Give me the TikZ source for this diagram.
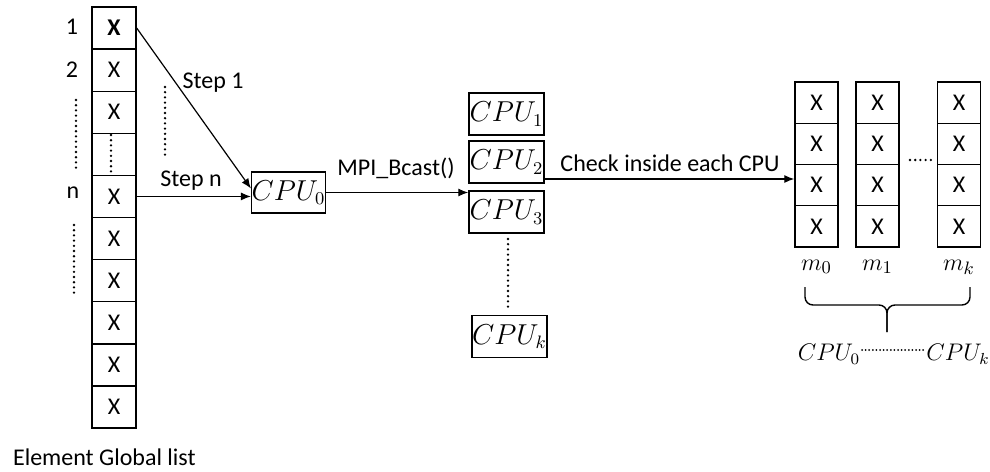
\documentclass[tikz,border=0pt]{standalone}
\usepackage{fontspec}
\setmainfont{Carlito}
\usetikzlibrary{arrows.meta}

\begin{document}
\begin{tikzpicture}[x=0.5pt, y=-0.5pt, >={Latex[length=5pt,width=4pt]},
  every node/.style={font=\fontsize{12}{14}\selectfont},
  cell/.style={draw, line width=0.7pt, minimum width=22pt, minimum height=21.05pt, inner sep=0pt},
  mcell/.style={draw, line width=0.7pt, minimum width=21.5pt, minimum height=20.6pt, inner sep=0pt},
  cpubox/.style={draw, line width=0.7pt, minimum width=37.5pt, minimum height=21pt, inner sep=0pt, font=\fontsize{13.5}{15}\selectfont},
  dotline/.style={line width=1.3pt, dash pattern=on 0pt off 2.6pt, line cap=round},
  link/.style={->, line width=0.6pt}]
  \useasboundingbox (0,0) rectangle (990,471);

  % global element list
  \foreach \i/\t in {1/\textbf{X},2/X,3/X,4/,5/X,6/X,7/X,8/X,9/X,10/X}
    \node[cell] (g\i) at (114,{7+42.1*(\i-0.5)}) {\t};
  \draw[dotline] (111,135) -- (111,173);
  \node (lab1) at (72,27) {1};
  \node (lab2) at (72,70) {2};
  \node (labn) at (73,193) {n};
  \draw[dotline] (76,100) -- (76,172);
  \draw[dotline] (74,225) -- (74,295);
  \node[anchor=west] (title) at (6,457) {Element Global list};

  % root process
  \node[cpubox, minimum width=36.5pt, minimum height=20.5pt] (cpu0) at (288.5,192.5) {$CPU_0$};
  \draw[link] (g1.east) -- ([yshift=2pt]cpu0.west);
  \draw[link] (g5.east) -- (g5.east -| cpu0.west);
  \node (step1) at (213,83) {Step 1};
  \node (stepn) at (191,181) {Step n};
  \draw[dotline] (165,87) -- (165,157);

  % broadcast to the other processes
  \node[cpubox] (cpu1) at (506.5,114) {$CPU_1$};
  \node[cpubox] (cpu2) at (506.5,162) {$CPU_2$};
  \node[cpubox] (cpu3) at (506.5,212) {$CPU_3$};
  \node[cpubox] (cpuk) at (509.5,336.5) {$CPU_k$};
  \draw[dotline] (508,239) -- (508,310);
  \draw[link] (cpu0.east) -- (cpu0.east -| cpu3.west);
  \node (bcast) at (396,168) {MPI\_Bcast()};

  % local lists
  \foreach \c/\x in {0/816.5,1/877.5,k/959} {
    \foreach \j in {1,...,4}
      \node[mcell] (m\c-\j) at (\x,{82+41.25*(\j-0.5)}) {X};
    \node[font=\fontsize{13}{15}\selectfont] (lm\c) at (\x,267) {$m_\c$};
  }
  \draw[dotline] (910,160) -- (932,160);
  \draw[link] ([yshift=-8.5pt]cpu2.east) -- ([yshift=-8.5pt]cpu2.east -| m0-3.west);
  \node (check) at (670,163) {Check inside each CPU};

  % brace over the local lists
  \draw[line width=0.7pt, rounded corners=4pt] (805,287) -- (805,305) -- (887,305) -- (887,332);
  \draw[line width=0.7pt, rounded corners=4pt] (970,287) -- (970,305) -- (887,305) -- (887,332);
  \node (bot0) at (829,354) {$CPU_0$};
  \node (botk) at (958,354) {$CPU_k$};
  \draw[line width=1pt, dash pattern=on 0pt off 1.8pt, line cap=round] (862,350) -- (924,350);
\end{tikzpicture}
\end{document}
